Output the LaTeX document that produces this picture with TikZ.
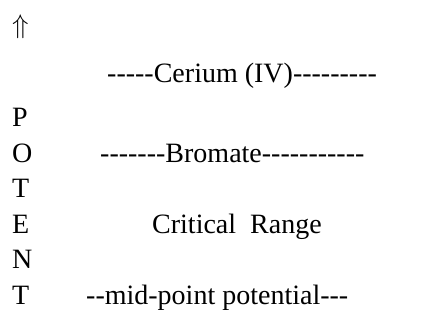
\documentclass[tikz,border=0pt]{standalone}
\usepackage{fontspec}
\usepackage{graphicx}
\setmainfont{Liberation Serif}[Ligatures=TeXOff]
\begin{document}
\begin{tikzpicture}[x=1pt,y=-1pt,
  txt/.style={anchor=base west,inner sep=0pt,font=\fontsize{28}{33}\selectfont}]
\useasboundingbox (0,0) rectangle (436,329);
\node[anchor=south west,inner sep=0pt] (arr) at (12,39) {\resizebox*{!}{24pt}{$\Uparrow$}};
\node[txt] (ce) at (107,82) {-----Cerium (IV)---------};
\node[txt] (p) at (12,126) {P};
\node[txt] (o) at (12,162) {O};
\node[txt] (br) at (100,162) {-------Bromate-----------};
\node[txt] (t1) at (12,197) {T};
\node[txt] (e) at (12,233) {E};
\node[txt] (cr) at (152,233) {Critical\ \ Range};
\node[txt] (n) at (12,268) {N};
\node[txt] (t2) at (12,304) {T};
\node[txt] (mp) at (86,304) {--mid-point potential---};
\end{tikzpicture}
\end{document}
